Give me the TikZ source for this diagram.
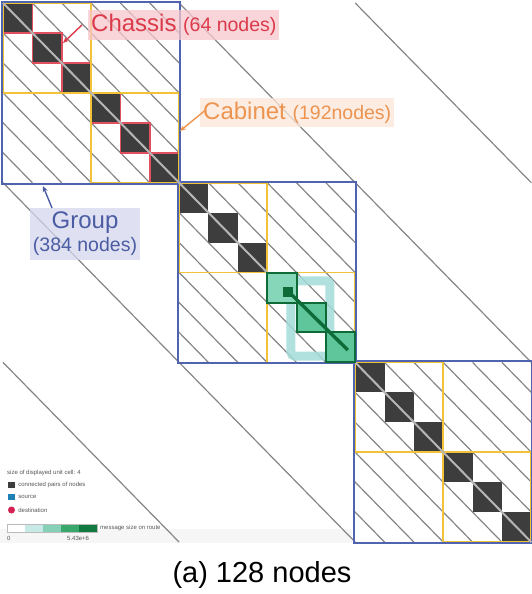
\documentclass[tikz,border=0pt]{standalone}
\usepackage{fontspec}
\setmainfont{Liberation Sans}
\setsansfont{Liberation Sans}
\usetikzlibrary{arrows.meta,positioning,calc}
\definecolor{TopoInk}{HTML}{3D3D3D}
\definecolor{TopoHatch}{HTML}{858585}
\definecolor{TopoHatchLight}{HTML}{B5B5B5}
\definecolor{TopoShade}{HTML}{F6F6F6}
\definecolor{TopoMuted}{HTML}{555555}
\definecolor{TopoGroup}{HTML}{4F63AE}
\definecolor{TopoGroupText}{HTML}{4B5CA3}
\definecolor{TopoGroupBg}{HTML}{D4D7EE}
\definecolor{TopoCabinet}{HTML}{F1C338}
\definecolor{TopoCabinetText}{HTML}{EC9450}
\definecolor{TopoCabinetBg}{HTML}{FDE6D8}
\definecolor{TopoChassis}{HTML}{E0505E}
\definecolor{TopoChassisText}{HTML}{DB3A4A}
\definecolor{TopoChassisBg}{HTML}{F7C6CC}
\definecolor{TopoRoute}{HTML}{0E6B38}
\definecolor{TopoRouteFill}{HTML}{5FC69B}
\definecolor{TopoRoutePale}{HTML}{86D6B9}
\definecolor{TopoRouteRing}{HTML}{A3DCD9}
\definecolor{TopoSource}{HTML}{1F80B4}
\definecolor{TopoDest}{HTML}{D52052}
\definecolor{TopoBarA}{HTML}{C8EAE6}
\definecolor{TopoBarB}{HTML}{86D0B8}
\definecolor{TopoBarC}{HTML}{38A86C}
\definecolor{TopoBarD}{HTML}{107A40}
\definecolor{TopoBarEdge}{HTML}{BBBBBB}
\tikzset{
  topo cell/.style={fill=TopoInk},
  topo hatch/.style={draw=TopoHatch, line width=1.2pt},
  topo glint/.style={draw=TopoHatchLight, line width=2pt},
  topo chassis/.style={draw=TopoChassis, line width=1.6pt},
  topo cabinet/.style={draw=TopoCabinet, line width=1.8pt},
  topo group/.style={draw=TopoGroup, line width=1.9pt},
  topo route cell/.style={draw=TopoRoute, line width=2pt},
  topo route ring/.style={draw=TopoRouteRing, line width=9pt, rounded corners=4pt, draw opacity=.85},
  topo route/.style={draw=TopoRoute, line width=3.4pt},
  topo tag/.style={inner xsep=3pt, inner ysep=4pt, fill opacity=.75, text opacity=1},
  topo pointer/.style={line width=1.4pt, -{Stealth[length=6pt,width=5pt]}},
  topo legend/.style={font=\fontsize{6}{7}\selectfont, text=TopoMuted, inner sep=0pt, anchor=west},
  topo key/.style={minimum width=7pt, minimum height=6pt, inner sep=0pt},
  topo caption/.style={font=\fontsize{29}{32}\selectfont, text=black},
}
\newcommand{\TagBig}{\fontsize{24}{26}\selectfont}
\newcommand{\TagSmall}{\fontsize{19.5}{23}\selectfont}

\begin{document}
\begin{tikzpicture}[x=1pt,y=-1pt]
  \useasboundingbox (0,0) rectangle (531,594);
  \fill[TopoShade] (0,529) rectangle (352,543);

  % matrix, one unit = one displayed cell
  \begin{scope}[shift={(3pt,-3pt)}, x=29.35pt, y=-29.95pt]
    \foreach \i in {0,1,2,3,4,5,6,7,8,12,13,14,15,16,17}
      \fill[topo cell] (\i,\i) rectangle ++(1,1);

    % hatching inside the groups
    \foreach \g in {0,6,12} {
      \begin{scope}
        \clip (\g,\g) rectangle ++(6,6);
        \foreach \k in {-5,...,5}
          \draw[topo hatch] (\g+\k,\g) -- ++(6,6);
      \end{scope}
    }
    % hatching between the groups
    \draw[topo hatch] (6,0) -- (18,12);
    \draw[topo hatch] (12,0) -- (18,6);
    \draw[topo hatch] (0,6) -- (12,18);
    \draw[topo hatch] (0,12) -- (6,18);

    % chassis, cabinets, groups
    \foreach \i in {0,...,5}
      \draw[topo chassis] (\i,\i) rectangle ++(1,1);
    \foreach \g in {0,6,12} {
      \draw[topo cabinet] (\g,\g) rectangle ++(3,3);
      \draw[topo cabinet] (\g+3,\g+3) rectangle ++(3,3);
      \draw[topo group] ($(\g,\g)+(-1pt,1pt)$) rectangle ($(\g+6,\g+6)+(1pt,-1pt)$);
    }
    % diagonal shows lighter over the dark cells
    \draw[topo glint] (0,0) -- (9,9);
    \draw[topo glint] (12,12) -- (18,18);

    % one routed message
    \draw[topo route ring] (9.81,9.28) rectangle (11.14,11.79);
    \foreach \i/\c in {9/TopoRoutePale,10/TopoRouteFill,11/TopoRouteFill}
      \draw[topo route cell, fill=\c] (\i,\i) rectangle ++(1,1);
    \fill[TopoRoute] (9.54,9.48) rectangle (9.88,9.82);
    \coordinate (route start) at (9.61,9.52);
    \coordinate (route end) at (11.75,11.59);
    \draw[topo route] (route start) -- (route end);
  \end{scope}

  % labels
  \node[topo tag, fill=TopoChassisBg, text=TopoChassisText, anchor=base west] (chassis)
    at (88,31.6) {\TagBig Chassis \TagSmall(64 nodes)};
  \coordinate (chassis tip) at (63,43);
  \draw[topo pointer, TopoChassisText] ([xshift=-6pt]chassis.west) -- (chassis tip);

  \node[topo tag, fill=TopoCabinetBg, text=TopoCabinetText, anchor=base west] (cabinet)
    at (200,119.2) {\TagBig Cabinet \TagSmall(192nodes)};
  \coordinate (cabinet tip) at (180,131);
  \draw[topo pointer, TopoCabinetText] ([xshift=5pt,yshift=2pt]cabinet.west) -- (cabinet tip);

  \node[topo tag, fill=TopoGroupBg, text=TopoGroupText, align=center, anchor=north,
    font=\TagSmall] (group) at (85,208) {{\TagBig Group}\\(384 nodes)};
  \coordinate (group tip) at (43,186);
  \draw[topo pointer, TopoGroupText] ([xshift=-33pt]group.north) -- (group tip);

  % legend
  \node[topo legend] (legend title) at (7,473) {size of displayed unit cell: 4};
  \node[topo key, fill=TopoInk] (key pairs) at (11.5,485) {};
  \node[topo legend, right=3pt of key pairs] (key pairs text) {connected pairs of nodes};
  \node[topo key, fill=TopoSource] (key source) at (11.5,497) {};
  \node[topo legend, right=3pt of key source] (key source text) {source};
  \node[circle, fill=TopoDest, minimum size=7pt, inner sep=0pt] (key dest) at (11.5,510) {};
  \node[topo legend, right=3pt of key dest] (key dest text) {destination};
  \foreach \c [count=\n from 0] in {white,TopoBarA,TopoBarB,TopoBarC,TopoBarD}
    \fill[\c] (7+18*\n,524) rectangle ++(18,8);
  \draw[TopoBarEdge, line width=.4pt] (7,524) rectangle (97,532);
  \node[topo legend] (bar text) at (100,528) {message size on route};
  \node[topo legend] (bar min) at (7,538) {0};
  \node[topo legend] (bar max) at (67,538) {5.43e+6};

  \node[topo caption, anchor=base] (caption) at (262,582) {(a) 128 nodes};
\end{tikzpicture}
\end{document}
